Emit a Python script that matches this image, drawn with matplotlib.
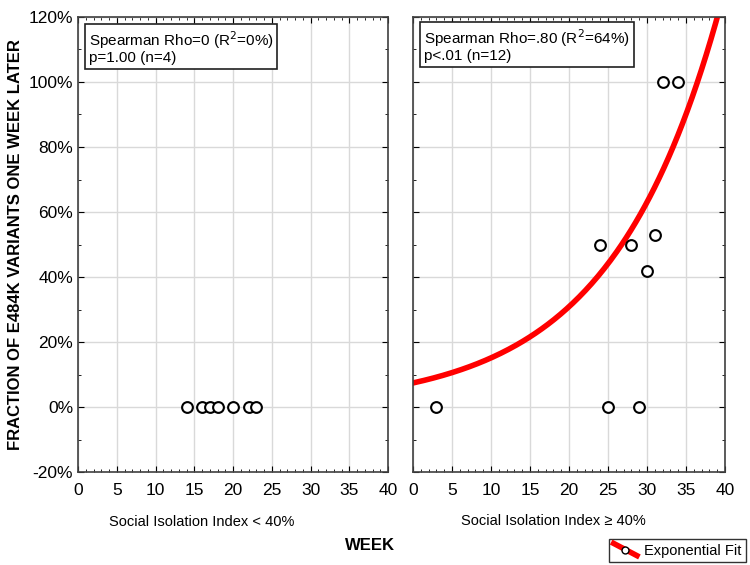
import numpy as np
import matplotlib.pyplot as plt
from matplotlib.ticker import MultipleLocator, FuncFormatter
from matplotlib.lines import Line2D
from matplotlib.legend_handler import HandlerLine2D

plt.rcParams['font.family'] = ['Liberation Sans', 'DejaVu Sans']

# low social isolation (< 40%)
low_week = [14, 16, 17, 18, 20, 22, 23]
low_frac = [0, 0, 0, 0, 0, 0, 0]

# high social isolation (>= 40%)
high_week = [3, 24, 25, 28, 29, 30, 31, 32, 34]
high_frac = [0, 0.50, 0, 0.50, 0, 0.42, 0.53, 1.00, 1.00]

# exponential fit y = a * exp(b * x)
fit_a = 0.074
fit_b = 0.0714

low_text = "Spearman Rho=0 (R$^2$=0%)\np=1.00 (n=4)"
high_text = "Spearman Rho=.80 (R$^2$=64%)\np<.01 (n=12)"


class DiagHandler(HandlerLine2D):
    # legend key drawn as a diagonal red stroke with the circle in the middle
    def create_artists(self, legend, orig, xd, yd, width, height, fontsize, trans):
        ln = Line2D([-xd, -xd + width], [-yd + height * 1.1, -yd - height * 0.1],
                    color='red', lw=4, transform=trans)
        mk = Line2D([-xd + width / 2], [-yd + height / 2], marker='o',
                    markersize=5, markerfacecolor='white',
                    markeredgecolor='black', lw=0, transform=trans)
        return [ln, mk]


fig = plt.figure(figsize=(7.5, 5.65), dpi=100)
ax1 = fig.add_axes([78/750, 1 - 472/565, 310/750, 455/565])
ax2 = fig.add_axes([413/750, 1 - 472/565, 312/750, 455/565])

pct = FuncFormatter(lambda v, p: "%d%%" % round(v * 100))

for ax in (ax1, ax2):
    ax.set_xlim(0, 40)
    ax.set_ylim(-0.2, 1.2)
    ax.xaxis.set_major_locator(MultipleLocator(5))
    ax.xaxis.set_minor_locator(MultipleLocator(1))
    ax.yaxis.set_major_locator(MultipleLocator(0.2))
    ax.yaxis.set_minor_locator(MultipleLocator(0.1))
    ax.grid(True, which='major', color='#d9d9d9', lw=1)
    ax.set_axisbelow(True)
    ax.tick_params(which='both', direction='in', top=True, right=True,
                   labelsize=12.5, colors='black')
    ax.tick_params(which='major', length=4)
    ax.tick_params(which='minor', length=2)
    ax.tick_params(axis='x', pad=8)
    for s in ax.spines.values():
        s.set_color('#404040')
        s.set_linewidth(1.2)

ax1.yaxis.set_major_formatter(pct)
ax2.tick_params(axis='y', labelleft=False)

ax1.scatter(low_week, low_frac, s=60, facecolors='white', edgecolors='black',
            linewidths=1.5, zorder=3)
ax2.scatter(high_week, high_frac, s=60, facecolors='white', edgecolors='black',
            linewidths=1.5, zorder=3)

xs = np.linspace(0, 40, 200)
ax2.plot(xs, fit_a * np.exp(fit_b * xs), color='red', lw=4, zorder=2)

box = dict(boxstyle='square,pad=0.25', fc='white', ec='#202020', lw=1.2)
ax1.text(0.035, 0.972, low_text, transform=ax1.transAxes, va='top', ha='left',
         fontsize=11, linespacing=1.0, bbox=box)
ax2.text(0.035, 0.977, high_text, transform=ax2.transAxes, va='top', ha='left',
         fontsize=11, linespacing=1.0, bbox=box)

ax1.set_ylabel("FRACTION OF E484K VARIANTS ONE WEEK LATER", fontsize=12,
               fontweight='bold', labelpad=4)

fig.text(202/750, 1 - 522/565, "Social Isolation Index < 40%", ha='center',
         va='center', fontsize=10.5)
fig.text(553/750, 1 - 521/565, "Social Isolation Index \u2265 40%", ha='center',
         va='center', fontsize=10.5)
fig.text(370/750, 1 - 545/565, "WEEK", ha='center', va='center',
         fontsize=12, fontweight='bold')

handle = Line2D([], [], color='red', lw=4)
fig.legend([handle], ["Exponential Fit"], loc='lower right',
           bbox_to_anchor=(746/750, 3/565), fontsize=10.5, frameon=True,
           fancybox=False, edgecolor='black', handlelength=1.6,
           borderpad=0.3, handletextpad=0.5, borderaxespad=0,
           handler_map={Line2D: DiagHandler()}).get_frame().set_linewidth(1.0)

fig.savefig("out.png", dpi=100)
